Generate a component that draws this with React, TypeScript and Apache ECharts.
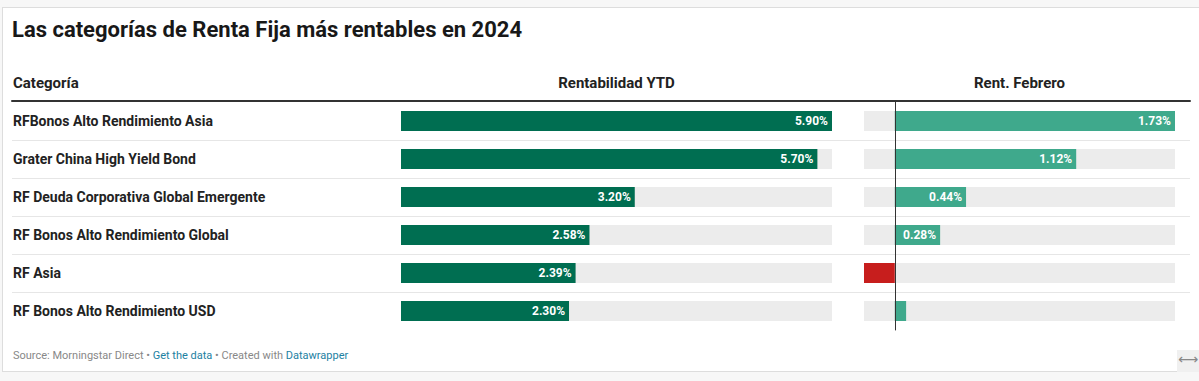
import React, { useEffect, useRef } from "react";
import * as echarts from "echarts";

const title = "Las categorías de Renta Fija más rentables en 2024";
const headerCategory = "Categoría";
const headerYtd = "Rentabilidad YTD";
const headerFeb = "Rent. Febrero";

const categories = [
  "RFBonos Alto Rendimiento Asia",
  "Grater China High Yield Bond",
  "RF Deuda Corporativa Global Emergente",
  "RF Bonos Alto Rendimiento Global",
  "RF Asia",
  "RF Bonos Alto Rendimiento USD",
];
const ytdValues = [5.9, 5.7, 3.2, 2.58, 2.39, 2.3];
const febValues = [1.73, 1.12, 0.44, 0.28, -0.19, 0.07];

const FONT = "Roboto, 'Noto Sans', sans-serif";
const YTD_COLOR = "#006e51";
const FEB_POS = "#3fa98c";
const FEB_NEG = "#c71e1d";
const TRACK = "#ececec";

const fmt = (v: number) => v.toFixed(2) + "%";

export default function App() {
  const ref = useRef<HTMLDivElement>(null);

  useEffect(() => {
    if (!ref.current) return;
    const chart = echarts.init(ref.current, null, { renderer: "svg" });

    const labelBase = {
      show: true,
      position: "insideRight",
      distance: 4,
      color: "#ffffff",
      fontFamily: FONT,
      fontWeight: "bold",
      fontSize: 12,
      formatter: (p: any) => fmt(p.value),
    };

    const ROW = 38;
    const TOP = 102;
    const sepRows = categories.slice(0, categories.length - 1);

    const option: any = {
      animation: false,
      grid: [
        { left: 401, width: 431, top: TOP, height: ROW * categories.length },
        { left: 864, width: 311, top: TOP, height: ROW * categories.length },
        { left: 12, width: 1178, top: TOP, height: ROW * sepRows.length },
      ],
      xAxis: [
        { gridIndex: 0, type: "value", min: 0, max: 5.9, show: false },
        { gridIndex: 1, type: "value", min: -0.19, max: 1.73, show: false },
        {
          gridIndex: 2,
          type: "value",
          min: 0,
          max: 1,
          position: "top",
          offset: 1,
          axisLine: { show: true, onZero: false, lineStyle: { color: "#333333", width: 2 } },
          axisTick: { show: false },
          axisLabel: { show: false },
          splitLine: { show: false },
        },
      ],
      yAxis: [
        {
          gridIndex: 0,
          type: "category",
          inverse: true,
          data: categories,
          axisLine: { show: false },
          axisTick: { show: false },
          axisLabel: {
            show: true,
            align: "left",
            margin: 388,
            color: "#222222",
            fontFamily: FONT,
            fontWeight: "bold",
            fontSize: 14,
          },
          splitLine: { show: false },
        },
        {
          gridIndex: 1,
          type: "category",
          inverse: true,
          data: categories,
          z: 10,
          axisLine: { show: true, onZero: true, lineStyle: { color: "#333333", width: 1 } },
          axisTick: { show: false },
          axisLabel: { show: false },
          splitLine: { show: false },
        },
        {
          gridIndex: 2,
          type: "category",
          inverse: true,
          data: sepRows,
          axisLine: { show: false },
          axisTick: { show: false },
          axisLabel: { show: false },
          splitLine: {
            show: true,
            interval: (index: number) => index > 0,
            lineStyle: { color: "#e6e6e6", width: 1 },
          },
        },
      ],
      series: [
        {
          type: "bar",
          xAxisIndex: 0,
          yAxisIndex: 0,
          data: ytdValues,
          barWidth: 20,
          showBackground: true,
          backgroundStyle: { color: TRACK },
          itemStyle: { color: YTD_COLOR },
          label: labelBase,
        },
        {
          type: "bar",
          xAxisIndex: 1,
          yAxisIndex: 1,
          barWidth: 20,
          showBackground: true,
          backgroundStyle: { color: TRACK },
          data: febValues.map((v) => ({
            value: v,
            itemStyle: { color: v < 0 ? FEB_NEG : FEB_POS },
            label: { ...labelBase, show: v >= 0.2 },
          })),
        },
      ],
      graphic: [
        {
          type: "text",
          left: 12,
          top: 18,
          style: {
            text: title,
            fill: "#181818",
            font: `bold 22px ${FONT}`,
          },
        },
        {
          type: "text",
          x: 13,
          y: 83,
          style: {
            text: headerCategory,
            fill: "#222222",
            font: `bold 15px ${FONT}`,
            verticalAlign: "middle",
          },
        },
        {
          type: "text",
          x: 616.5,
          y: 83,
          style: {
            text: headerYtd,
            fill: "#222222",
            font: `bold 15px ${FONT}`,
            align: "center",
            verticalAlign: "middle",
          },
        },
        {
          type: "text",
          x: 1019.5,
          y: 83,
          style: {
            text: headerFeb,
            fill: "#222222",
            font: `bold 15px ${FONT}`,
            align: "center",
            verticalAlign: "middle",
          },
        },
        {
          type: "text",
          x: 13,
          y: 355,
          style: {
            text: "{g|Source: Morningstar Direct • }{b|Get the data}{g| • Created with }{b|Datawrapper}",
            verticalAlign: "middle",
            rich: {
              g: { fill: "#888888", fontFamily: FONT, fontSize: 11 },
              b: { fill: "#1d81a2", fontFamily: FONT, fontSize: 11 },
            },
          },
        },
        {
          type: "rect",
          shape: { x: 1177, y: 350, width: 22, height: 22 },
          style: { fill: "#f0f0f0" },
        },
        {
          type: "text",
          x: 1188,
          y: 359,
          style: {
            text: "⟷",
            fill: "#888888",
            font: `14px 'DejaVu Sans', sans-serif`,
            align: "center",
            verticalAlign: "middle",
          },
        },
      ],
    };

    chart.setOption(option);
    return () => chart.dispose();
  }, []);

  return (
    <div
      style={{
        position: "fixed",
        left: 0,
        top: 0,
        width: 1199,
        height: 381,
        background: "#f7f7f7",
        overflow: "hidden",
      }}
    >
      <div
        style={{
          position: "absolute",
          left: 2,
          top: 7,
          width: 1220,
          height: 365,
          background: "#ffffff",
          border: "1px solid #dddddd",
          boxSizing: "border-box",
        }}
      />
      <div
        ref={ref}
        style={{ position: "absolute", left: 0, top: 0, width: 1199, height: 381 }}
      />
    </div>
  );
}
